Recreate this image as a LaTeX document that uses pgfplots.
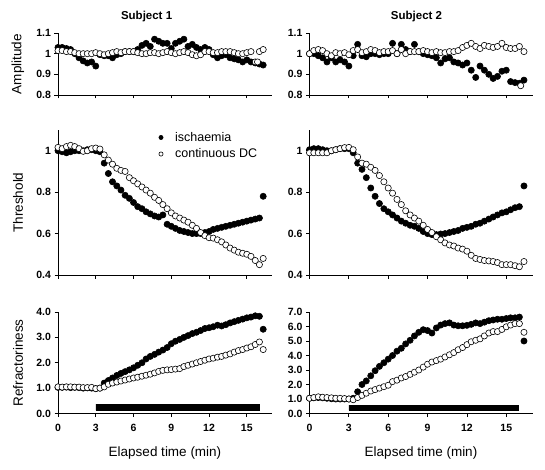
\documentclass[border=0pt]{standalone}
\usepackage{fontspec}
\setmainfont{Liberation Sans}
\usepackage{pgfplots}
\usepackage{pgfplotstable}
\pgfplotsset{compat=1.18}

% Subject 1 amplitude
\pgfplotstableread{
t i d
0 1.03 1.015
0.33 1.03 1.015
0.67 1.025 1.01
1 1.02 1.01
1.33 1.0 1.005
1.67 0.98 1.0
2 0.965 1.0
2.33 0.955 1.0
2.67 0.96 1.0
3 0.94 1.005
3.33 0.995 1.0
3.67 0.99 0.995
4 0.99 1.0
4.33 0.98 1.005
4.67 0.995 1.01
5 1.0 1.005
5.33 1.01 1.01
5.67 1.01 1.01
6 1.01 1.01
6.33 1.02 1.005
6.67 1.04 1.0
7 1.05 1.0
7.33 1.035 1.005
7.67 1.07 1.005
8 1.06 1.0
8.33 1.05 1.005
8.67 1.05 1.01
9 1.025 1.005
9.33 1.05 1.0
9.67 1.06 1.005
10 1.07 1.01
10.33 1.035 1.005
10.67 1.045 0.995
11 1.03 0.99
11.33 1.02 0.995
11.67 1.03 1.01
12 1.02 1.01
12.33 0.995 1.005
12.67 0.98 1.005
13 0.99 1.01
13.33 0.995 1.01
13.67 0.98 1.01
14 0.975 1.005
14.33 0.97 1.0
14.67 0.96 1.0
15 0.97 1.005
15.33 0.96 1.01
15.67 0.955 0.96
16 0.95 1.01
16.3 0.945 1.02
}\ampA

% Subject 2 amplitude
\pgfplotstableread{
t i d
0 1.0 1.0
0.33 1.0 1.015
0.67 0.99 1.02
1 0.98 1.015
1.33 0.96 1.0
1.67 0.98 0.99
2 0.96 1.005
2.33 0.97 1.0
2.67 0.96 1.005
3 0.94 0.995
3.33 0.99 1.015
3.67 1.045 1.02
4 0.99 1.005
4.33 0.985 1.01
4.67 1.0 1.02
5 1.0 1.015
5.33 0.995 1.005
5.67 1.0 1.01
6 1.0 1.01
6.33 1.05 1.015
6.67 1.0 1.0
7 1.045 1.02
7.33 1.02 1.0
7.67 1.01 1.01
8 1.045 1.01
8.33 1.01 1.01
8.67 1.0 1.015
9 0.995 1.01
9.33 0.99 1.005
9.67 0.98 1.01
10 0.955 1.005
10.33 0.975 1.005
10.67 0.98 1.01
11 0.96 1.01
11.33 0.955 1.015
11.67 0.945 1.03
12 0.955 1.04
12.33 0.92 1.05
12.67 0.885 1.035
13 0.94 1.025
13.33 0.92 1.04
13.67 0.9 1.035
14 0.88 1.03
14.33 0.89 1.035
14.67 0.915 1.05
15 0.92 1.03
15.33 0.865 1.025
15.67 0.86 1.025
16 0.857 1.035
16.35 0.872 1.01
}\ampB

% Subject 1 threshold
\pgfplotstableread{
t i d
0 1.0 1.016
0.33 0.995 1.01
0.67 0.99 1.02
1 0.995 1.026
1.33 1.0 1.02
1.67 1.0 1.01
2 1.0 0.997
2.33 1.005 1.0
2.67 1.005 1.01
3 1.0 1.013
3.33 0.995 1.008
3.67 0.94 0.98
4 0.89 0.955
4.33 0.85 0.935
4.67 0.83 0.915
5 0.81 0.905
5.33 0.785 0.9
5.67 0.77 0.87
6 0.75 0.855
6.33 0.73 0.84
6.67 0.72 0.825
7 0.705 0.81
7.33 0.695 0.795
7.67 0.685 0.775
8 0.68 0.76
8.33 0.69 0.74
8.67 0.645 0.72
9 0.635 0.70
9.33 0.625 0.685
9.67 0.615 0.675
10 0.61 0.665
10.33 0.605 0.655
10.67 0.6 0.64
11 0.6 0.625
11.33 0.6 0.605
11.67 0.605 0.59
12 0.61 0.58
12.33 0.62 0.578
12.67 0.625 0.57
13 0.63 0.56
13.33 0.635 0.545
13.67 0.64 0.53
14 0.645 0.52
14.33 0.65 0.51
14.67 0.655 0.505
15 0.66 0.5
15.33 0.665 0.49
15.67 0.67 0.47
16 0.675 0.45
16.3 0.78 0.48
}\thrA

% Subject 2 threshold
\pgfplotstableread{
t i d
0 1.005 0.99
0.33 1.01 0.99
0.67 1.01 0.99
1 1.005 0.99
1.33 1.0 0.99
1.67 1.0 1.0
2 1.005 1.005
2.33 1.01 1.01
2.67 1.01 1.015
3 1.01 1.016
3.33 0.99 1.005
3.67 0.94 0.97
4 0.91 0.94
4.33 0.87 0.935
4.67 0.82 0.92
5 0.78 0.905
5.33 0.745 0.88
5.67 0.72 0.85
6 0.705 0.82
6.33 0.69 0.795
6.67 0.675 0.765
7 0.66 0.74
7.33 0.65 0.71
7.67 0.64 0.69
8 0.635 0.675
8.33 0.625 0.66
8.67 0.61 0.64
9 0.6 0.62
9.33 0.595 0.605
9.67 0.595 0.585
10 0.598 0.57
10.33 0.6 0.555
10.67 0.605 0.545
11 0.61 0.54
11.33 0.615 0.53
11.67 0.625 0.525
12 0.63 0.515
12.33 0.635 0.495
12.67 0.645 0.48
13 0.65 0.475
13.33 0.66 0.47
13.67 0.67 0.468
14 0.68 0.465
14.33 0.69 0.46
14.67 0.70 0.45
15 0.705 0.45
15.33 0.715 0.45
15.67 0.725 0.445
16 0.73 0.44
16.35 0.83 0.465
}\thrB

% Subject 1 refractoriness
\pgfplotstableread{
t i d
0 1.03 1.05
0.33 1.03 1.04
0.67 1.04 1.05
1 1.02 1.05
1.33 1.03 1.04
1.67 1.02 1.04
2 1.0 1.02
2.33 1.01 1.02
2.67 1.0 1.03
3 0.98 0.98
3.33 1.0 1.0
3.67 1.2 1.05
4 1.3 1.15
4.33 1.4 1.2
4.67 1.5 1.24
5 1.58 1.28
5.33 1.65 1.32
5.67 1.72 1.36
6 1.8 1.4
6.33 1.9 1.43
6.67 2.0 1.47
7 2.15 1.51
7.33 2.25 1.55
7.67 2.33 1.6
8 2.42 1.66
8.33 2.5 1.7
8.67 2.6 1.72
9 2.75 1.73
9.33 2.85 1.75
9.67 2.92 1.77
10 3.0 1.85
10.33 3.07 1.9
10.67 3.15 1.95
11 3.2 2.0
11.33 3.27 2.05
11.67 3.35 2.1
12 3.38 2.15
12.33 3.42 2.18
12.67 3.48 2.22
13 3.45 2.25
13.33 3.5 2.3
13.67 3.57 2.35
14 3.62 2.42
14.33 3.67 2.48
14.67 3.72 2.52
15 3.77 2.58
15.33 3.8 2.63
15.67 3.85 2.72
16 3.83 2.82
16.3 3.32 2.52
}\refA

% Subject 2 refractoriness
\pgfplotstableread{
t i d
0 1.05 1.05
0.33 1.08 1.1
0.67 1.1 1.15
1 1.08 1.12
1.33 1.05 1.1
1.67 1.02 1.08
2 1.0 1.05
2.33 1.0 1.05
2.67 1.0 1.03
3 1.0 1.0
3.33 1.05 0.95
3.67 1.5 1.1
4 2.0 1.25
4.33 2.25 1.4
4.67 2.6 1.55
5 2.95 1.65
5.33 3.25 1.75
5.67 3.5 1.85
6 3.75 1.95
6.33 4.0 2.2
6.67 4.3 2.3
7 4.5 2.45
7.33 4.8 2.55
7.67 5.05 2.7
8 5.35 2.85
8.33 5.6 3.0
8.67 5.78 3.2
9 5.72 3.4
9.33 5.55 3.55
9.67 5.9 3.65
10 6.1 3.75
10.33 6.2 3.9
10.67 6.25 4.05
11 6.1 4.2
11.33 6.05 4.4
11.67 6.05 4.55
12 6.08 4.75
12.33 6.15 4.95
12.67 6.25 5.05
13 6.2 5.15
13.33 6.3 5.35
13.67 6.4 5.55
14 6.45 5.65
14.33 6.5 5.65
14.67 6.5 5.8
15 6.55 5.98
15.33 6.6 6.1
15.67 6.6 6.2
16 6.65 6.2
16.35 5.0 5.6
}\refB

\pgfplotsset{
  panel/.style={
    scale only axis,
    axis x line*=bottom, axis y line*=left,
    axis line style={-, line width=0.8pt},
    tick align=outside, major tick length=3.5pt,
    every tick/.style={black, line width=0.8pt},
    xmin=0, xmax=17, xtick={0,3,6,9,12,15},
    clip=false,
    /pgf/number format/assume math mode=true,
    tick label style={font=\fontsize{10.5}{12}\selectfont\bfseries},
    xticklabel style={yshift=-4pt},
    label style={font=\fontsize{13.5}{16}\selectfont},
    title style={font=\fontsize{11.5}{14}\selectfont\bfseries, anchor=center, yshift=10pt},
    ylabel style={at={(axis description cs:-0.187,0.5)}, anchor=center},
  },
  isch/.style={only marks, mark=*, mark size=3.1pt, mark options={fill=black, draw=black, line width=0.6pt}},
  dc/.style={only marks, mark=*, mark size=3.1pt, mark options={fill=white, draw=black, line width=0.6pt}},
}

\begin{document}
\begin{tikzpicture}
\path[use as bounding box] (0pt,0pt) rectangle (545pt,469pt);

% ---------- Row 1: Amplitude ----------
\begin{axis}[panel, at={(58pt,374pt)}, anchor=south west, width=214pt, height=62pt,
  ymin=0.8, ymax=1.1, ytick={0.8,0.9,1,1.1}, xticklabels={},
  ylabel={Amplitude}, title={Subject 1},
  title style={at={(axis description cs:0.414,1)}}]
\addplot[isch] table[x=t, y=i] {\ampA};
\addplot[dc] table[x=t, y=d] {\ampA};
\addplot[dc] coordinates {(15.85,0.96)};
\end{axis}

\begin{axis}[panel, at={(309.5pt,374pt)}, anchor=south west, width=223pt, height=62pt,
  ymin=0.8, ymax=1.1, ytick={0.8,0.9,1,1.1}, xticklabels={},
  title={Subject 2},
  title style={at={(axis description cs:0.48,1)}}]
\addplot[isch] table[x=t, y=i] {\ampB};
\addplot[dc] table[x=t, y=d] {\ampB};
\addplot[dc] coordinates {(16.1,0.845)};
\end{axis}

% ---------- Row 2: Threshold ----------
\begin{axis}[panel, at={(58pt,194pt)}, anchor=south west, width=214pt, height=145pt,
  ymin=0.4, ymax=1.1, ytick={0.4,0.6,0.8,1}, xticklabels={},
  ylabel={Threshold},
  legend style={draw=none, fill=none, at={(0.4706,1.0)}, anchor=north west,
    inner sep=0pt, row sep=2pt, column sep=10pt},
  every legend image post/.style={mark size=2.1pt},
  legend cell align=left]
\addplot[isch] table[x=t, y=i] {\thrA};
\addlegendentry{\fontsize{12.5}{15}\selectfont ischaemia}
\addplot[dc] table[x=t, y=d] {\thrA};
\addlegendentry{\fontsize{12.5}{15}\selectfont continuous DC}
\end{axis}

\begin{axis}[panel, at={(309.5pt,194pt)}, anchor=south west, width=223pt, height=145pt,
  ymin=0.4, ymax=1.1, ytick={0.4,0.6,0.8,1}, xticklabels={}]
\addplot[isch] table[x=t, y=i] {\thrB};
\addplot[dc] table[x=t, y=d] {\thrB};
\end{axis}

% ---------- Row 3: Refractoriness ----------
\begin{axis}[panel, at={(58pt,55.5pt)}, anchor=south west, width=214pt, height=101.5pt,
  ymin=0, ymax=4, ytick={0,1,2,3,4},
  yticklabel style={/pgf/number format/.cd, fixed, fixed zerofill, precision=1},
  ylabel={Refractoriness}, xlabel={Elapsed time (min)},
  xlabel style={at={(axis description cs:0.5,-0.394)}, anchor=center}]
\addplot[fill=black, draw=black] coordinates {(3,0.13) (16,0.13) (16,0.37) (3,0.37) (3,0.13)};
\addplot[isch] table[x=t, y=i] {\refA};
\addplot[dc] table[x=t, y=d] {\refA};
\end{axis}

\begin{axis}[panel, at={(309.5pt,55.5pt)}, anchor=south west, width=223pt, height=101.5pt,
  ymin=0, ymax=7, ytick={0,1,2,3,4,5,6,7},
  yticklabel style={/pgf/number format/.cd, fixed, fixed zerofill, precision=1},
  xlabel={Elapsed time (min)},
  xlabel style={at={(axis description cs:0.5,-0.394)}, anchor=center}]
\addplot[fill=black, draw=black] coordinates {(3,0.23) (15.9,0.23) (15.9,0.57) (3,0.57) (3,0.23)};
\addplot[isch] table[x=t, y=i] {\refB};
\addplot[dc] table[x=t, y=d] {\refB};
\end{axis}
\end{tikzpicture}
\end{document}
